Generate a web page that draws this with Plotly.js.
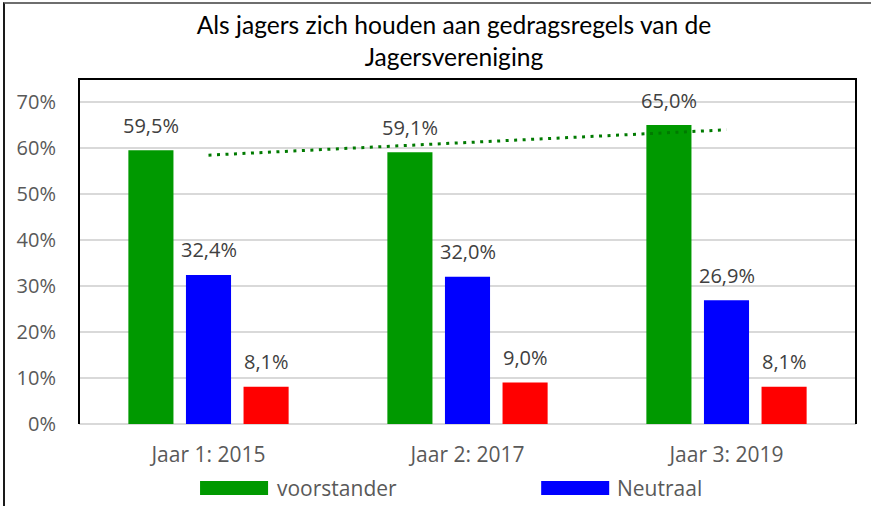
<!DOCTYPE html>
<html>
<head>
<meta charset="utf-8">
<script src="https://cdn.plot.ly/plotly-3.0.1.min.js"></script>
<style>
  html, body { margin: 0; padding: 0; background: #fff; overflow: hidden; }
  #wrap { position: relative; width: 871px; height: 506px; }
  #chart { width: 871px; height: 506px; }
  #frame { position: absolute; left: 3px; top: 2px; width: 900px; height: 600px;
           border-top: 2px solid #6e6e6e; border-left: 2px solid #1a1a1a; pointer-events: none; }
</style>
</head>
<body>
<div id="wrap">
  <div id="chart"></div>
  <div id="frame"></div>
</div>
<script>
// ---- data ----
const categories = ['Jaar 1: 2015', 'Jaar 2: 2017', 'Jaar 3: 2019'];
const seriesNames = ['voorstander', 'Neutraal', 'Tegenstander'];
const voorstander = [59.5, 59.1, 65.0];
const neutraal = [32.4, 32.0, 26.9];
const tegenstander = [8.1, 9.0, 8.1];
const yTickVals = [0, 10, 20, 30, 40, 50, 60, 70];
const yTickText = ['0%', '10%', '20%', '30%', '40%', '50%', '60%', '70%'];

const colors = ['#009900', '#0000FF', '#FF0000'];
const allSeries = [voorstander, neutraal, tegenstander];
const fmt = v => v.toFixed(1).replace('.', ',') + '%';

// linear trendline of voorstander (least squares)
const n = voorstander.length;
const xs = voorstander.map((_, i) => i);
const mx = xs.reduce((a, b) => a + b, 0) / n;
const my = voorstander.reduce((a, b) => a + b, 0) / n;
let sxy = 0, sxx = 0;
xs.forEach((x, i) => { sxy += (x - mx) * (voorstander[i] - my); sxx += (x - mx) * (x - mx); });
const slope = sxy / sxx;
const trend = xs.map(x => my + slope * (x - mx));

const bargap = 0.333;
const slot = (1 - bargap) / 3;

const traces = allSeries.map((vals, j) => ({
  type: 'bar',
  name: seriesNames[j],
  x: categories,
  y: vals,
  marker: { color: colors[j] },
  showlegend: false,
  hoverinfo: 'none'
}));
traces.push({
  type: 'scatter',
  mode: 'lines',
  x: categories,
  y: trend,
  line: { color: '#007a00', width: 3, dash: '3px,5.5px' },
  showlegend: false,
  hoverinfo: 'none'
});

const annotations = [];
allSeries.forEach((vals, j) => {
  vals.forEach((v, i) => {
    annotations.push({
      x: i + (j - 1) * slot, y: v, xref: 'x', yref: 'y',
      text: fmt(v), showarrow: false, yanchor: 'middle', yshift: 25,
      font: { family: 'Open Sans', size: 20, color: '#404040' }
    });
  });
});

// manual legend (first two series as in reference)
const px = p => (p - 79) / 776.7;
const py = p => (424 - p) / 345;
const legendItems = [
  { j: 0, x0: 200, x1: 268, tx: 275 },
  { j: 1, x0: 541, x1: 609, tx: 615 }
];
const shapes = [
  { type: 'path', xref: 'paper', yref: 'paper', path: 'M0,0 L0,1 L1,1 L1,0',
    line: { color: '#000', width: 2 }, layer: 'above' }
];
legendItems.forEach(it => {
  shapes.push({ type: 'rect', xref: 'paper', yref: 'paper',
    x0: px(it.x0), x1: px(it.x1), y0: py(481), y1: py(495),
    fillcolor: colors[it.j], line: { width: 0 } });
  annotations.push({ xref: 'paper', yref: 'paper', x: px(it.tx), y: py(488),
    xanchor: 'left', yanchor: 'middle', showarrow: false, text: seriesNames[it.j],
    font: { family: 'Open Sans', size: 21, color: '#595959' } });
});

const layout = {
  width: 871, height: 506,
  margin: { l: 79, r: 15, t: 79, b: 82, pad: 0 },
  paper_bgcolor: '#fff', plot_bgcolor: '#fff',
  title: {
    text: 'Als jagers zich houden aan gedragsregels van de<br>Jagersvereniging',
    font: { family: 'Lato', size: 24.6, color: '#000' },
    xref: 'container', x: 454 / 871, xanchor: 'center', y: 1 - 34 / 506, yanchor: 'middle'
  },
  barmode: 'group', bargap: bargap, bargroupgap: 0.217,
  xaxis: {
    type: 'category', tickvals: categories, ticks: '', showgrid: false, showline: false,
    zeroline: false, range: [-0.5, 2.5], ticklabelstandoff: 16,
    tickfont: { family: 'Open Sans', size: 21, color: '#595959' }
  },
  yaxis: {
    range: [0, 75], tickvals: yTickVals, ticktext: yTickText, ticks: '',
    showgrid: true, gridcolor: '#d9d9d9', gridwidth: 1.5,
    zeroline: true, zerolinecolor: '#d9d9d9', zerolinewidth: 1.5, showline: false,
    ticklabelstandoff: 22,
    tickfont: { family: 'Open Sans', size: 20, color: '#595959' }
  },
  shapes: shapes,
  annotations: annotations,
  showlegend: false
};

Plotly.newPlot('chart', traces, layout, { staticPlot: true, displayModeBar: false });
</script>
</body>
</html>
